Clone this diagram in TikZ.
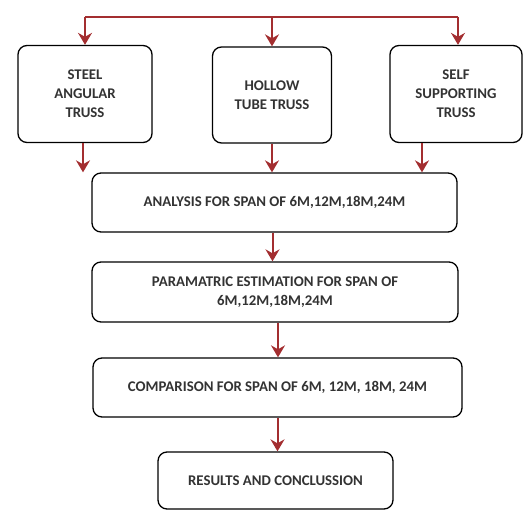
\documentclass[tikz,border=0pt]{standalone}
\usepackage{fontspec}
\setmainfont{Carlito}
\usetikzlibrary{arrows.meta,positioning}
\definecolor{colorarrow}{rgb}{0.64, 0.18, 0.19}
\tikzstyle{stepbox}=[rectangle, rounded corners=9pt, draw=black, line width=1.3pt, fill=white, align=center, font=\fontsize{14.8}{19}\selectfont\bfseries, text=black!80]
\tikzstyle{flow}=[draw=colorarrow, line width=2pt, -{Stealth[length=12pt, width=14pt, inset=4pt]}]
\tikzstyle{feed}=[draw=colorarrow, line width=1.7pt]

\begin{document}
\begin{tikzpicture}[x=1pt, y=-1pt]
	\useasboundingbox (0,0) rectangle (523,510);
	
	\node[stepbox, minimum width=134pt, minimum height=97pt] at (85, 94) (steel) {STEEL\\ANGULAR\\TRUSS};
	
	\node[stepbox, minimum width=119pt, minimum height=96pt] at (272, 95) (hollow) {HOLLOW\\TUBE TRUSS};
	
	\node[stepbox, minimum width=132pt, minimum height=97pt] at (456, 94) (self) {SELF\\SUPPORTING\\TRUSS};
	
	\node[stepbox, minimum width=365pt, minimum height=59pt] at (274.5, 202.5) (analysis) {ANALYSIS FOR SPAN OF 6M,12M,18M,24M};
	
	\node[stepbox, minimum width=366pt, minimum height=60pt] at (275, 292) (estim) {PARAMATRIC ESTIMATION FOR SPAN OF\\6M,12M,18M,24M};
	
	\node[stepbox, minimum width=369pt, minimum height=59pt] at (277.5, 387.5) (compare) {COMPARISON FOR SPAN OF 6M, 12M, 18M, 24M};
	
	\node[stepbox, minimum width=235pt, minimum height=57pt] at (275.5, 480.5) (result) {RESULTS AND CONCLUSSION};
	
	% feed line on top
	\coordinate (feedl) at (85, 17);
	\coordinate (feedr) at (458, 17);
	\draw[feed] (feedl) -- (feedr);
	\draw[flow] (feedl) -- (steel.north);
	\draw[flow] (feedl -| hollow.north) -- (hollow.north);
	\draw[flow] (feedr) -- (feedr |- self.north);
	
	\draw[flow] ([xshift=-2pt]steel.south) -- ([xshift=-2pt]steel.south |- analysis.north);
	\draw[flow] (hollow.south) -- (hollow.south |- analysis.north);
	\draw[flow] ([xshift=-34pt]self.south) -- ([xshift=-34pt]self.south |- analysis.north);
	
	\draw[flow] ([xshift=-2pt]analysis.south) -- ([xshift=-2pt]analysis.south |- estim.north);
	\draw[flow] ([xshift=3pt]estim.south) -- ([xshift=3pt]estim.south |- compare.north);
	\draw[flow] (compare.south) -- (compare.south |- result.north);
	
\end{tikzpicture}
\end{document}
